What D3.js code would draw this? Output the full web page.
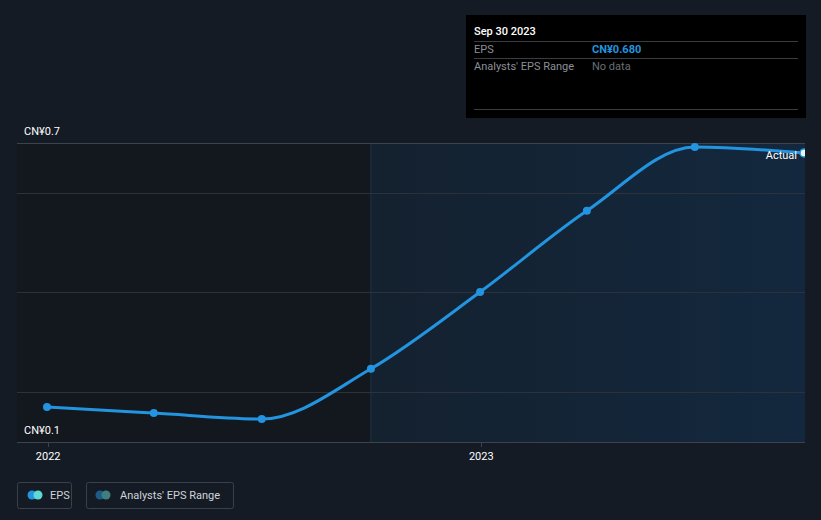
<!DOCTYPE html>
<html><head><meta charset="utf-8">
<script src="https://cdn.jsdelivr.net/npm/d3@7"></script>
<style>
html,body{margin:0;padding:0;background:#151b25;}
svg{display:block;font-family:Roboto, "Open Sans", sans-serif;}
</style></head>
<body>
<svg id="c" width="821" height="520"></svg>
<script>
const dates = ["2021-12-31","2022-03-31","2022-06-30","2022-09-30","2022-12-31","2023-03-31","2023-06-30","2023-09-30"];
const eps = [0.170, 0.158, 0.146, 0.247, 0.401, 0.564, 0.692, 0.680];
const yTicks = [0.1, 0.7];
const gridVals = [0.2, 0.4, 0.6];
const xTickLabels = ["2022", "2023"];
const forecastStart = "2022-09-30";

const parse = d3.timeParse("%Y-%m-%d");
const data = dates.map((d,i)=>({date:parse(d), v:eps[i]}));

const svg = d3.select("#c");
const L = 17, R = 805, T = 143, B = 442;
const x = d3.scaleTime().domain([parse("2021-12-31"), parse("2023-09-30")]).range([47, 804]);
const y = d3.scaleLinear().domain([0.1, 0.7]).range([B, T]);

const defs = svg.append("defs");
const grad = defs.append("linearGradient").attr("id","fg").attr("x1","0").attr("x2","1").attr("y1","0").attr("y2","0");
grad.append("stop").attr("offset","0").attr("stop-color","#14212f");
grad.append("stop").attr("offset","1").attr("stop-color","#13283e");
defs.append("clipPath").attr("id","clip").append("rect").attr("x",L).attr("y",0).attr("width",R-L).attr("height",B);

// past background
svg.append("rect").attr("x",L).attr("y",T).attr("width",x(parse(forecastStart))-L).attr("height",B-T).attr("fill","#13171e");
// forecast region
svg.append("rect").attr("x",x(parse(forecastStart))).attr("y",T).attr("width",R-x(parse(forecastStart))).attr("height",B-T).attr("fill","url(#fg)");
svg.append("line").attr("x1",x(parse(forecastStart))).attr("x2",x(parse(forecastStart))).attr("y1",T).attr("y2",B).attr("stroke","#1e3448").attr("stroke-width",1);

// grid
svg.selectAll(".g").data(gridVals).enter().append("line")
  .attr("x1",L).attr("x2",R).attr("y1",d=>Math.round(y(d))+0.5).attr("y2",d=>Math.round(y(d))+0.5)
  .attr("stroke","#2b323c").attr("stroke-width",1);
svg.append("line").attr("x1",L).attr("x2",R).attr("y1",T+0.5).attr("y2",T+0.5).attr("stroke","#3d434c");
svg.append("line").attr("x1",L).attr("x2",R).attr("y1",B+0.5).attr("y2",B+0.5).attr("stroke","#3d434c");

// y labels
svg.selectAll(".yl").data(yTicks).enter().append("text")
  .attr("x",24).attr("y",d=>y(d)-8).attr("fill","#ffffff").attr("font-size",11).text(d=>"CN¥"+d);

// x axis ticks
const xt = xTickLabels.map(s=>parse(s+"-01-01"));
svg.selectAll(".xt").data(xt).enter().append("line")
  .attr("x1",d=>Math.round(x(d))+0.5).attr("x2",d=>Math.round(x(d))+0.5).attr("y1",B).attr("y2",B+5).attr("stroke","#3d434c");
svg.selectAll(".xl").data(xt).enter().append("text")
  .attr("x",d=>x(d)).attr("y",B+18).attr("text-anchor","middle").attr("fill","#ffffff").attr("font-size",11)
  .text((d,i)=>xTickLabels[i]);

// line
const g = svg.append("g").attr("clip-path","url(#clip)");
g.append("path").datum(data).attr("fill","none").attr("stroke","#2394df").attr("stroke-width",3)
  .attr("d", d3.line().x(d=>x(d.date)).y(d=>y(d.v)).curve(d3.curveMonotoneX));
g.selectAll(".pt").data(data.slice(0,-1)).enter().append("circle")
  .attr("cx",d=>x(d.date)).attr("cy",d=>y(d.v)).attr("r",4).attr("fill","#2394df");
const last = data[data.length-1];
g.append("circle").attr("cx",x(last.date)).attr("cy",y(last.v)).attr("r",4).attr("fill","#e8f4ff").attr("stroke","#2394df").attr("stroke-width",1.5);
svg.append("text").attr("x",797).attr("y",y(last.v)+6).attr("text-anchor","end").attr("fill","#ffffff").attr("font-size",11).text("Actual");

// tooltip
const tt = svg.append("g");
tt.append("rect").attr("x",466).attr("y",15).attr("width",340).attr("height",103).attr("fill","#000000");
tt.append("text").attr("x",474).attr("y",35).attr("fill","#ffffff").attr("font-size",11).attr("font-weight",500).text("Sep 30 2023");
[41,58,109].forEach(yy=>tt.append("line").attr("x1",474).attr("x2",798).attr("y1",yy+0.5).attr("y2",yy+0.5).attr("stroke","#3a3d42"));
tt.append("text").attr("x",474).attr("y",53).attr("fill","#8b8f96").attr("font-size",11).text("EPS");
tt.append("text").attr("x",592).attr("y",53).attr("fill","#2394df").attr("font-size",11).attr("font-weight",700).text("CN¥0.680");
tt.append("text").attr("x",474).attr("y",70).attr("fill","#8b8f96").attr("font-size",11).text("Analysts' EPS Range");
tt.append("text").attr("x",592).attr("y",70).attr("fill","#6b6f75").attr("font-size",11).text("No data");

// legend
const lg = svg.append("g");
lg.append("rect").attr("x",17.5).attr("y",482.5).attr("width",54).attr("height",26).attr("rx",2).attr("fill","none").attr("stroke","#3a414b");
lg.append("circle").attr("cx",32).attr("cy",495).attr("r",4.5).attr("fill","#2394df");
lg.append("circle").attr("cx",38).attr("cy",495).attr("r",4.5).attr("fill","#5fd9d4");
lg.append("text").attr("x",50).attr("y",499).attr("fill","#d0d3d8").attr("font-size",11).text("EPS");
lg.append("rect").attr("x",86.5).attr("y",482.5).attr("width",147).attr("height",26).attr("rx",2).attr("fill","none").attr("stroke","#3a414b");
lg.append("circle").attr("cx",100).attr("cy",495).attr("r",4.5).attr("fill","#1d5b86");
lg.append("circle").attr("cx",106).attr("cy",495).attr("r",4.5).attr("fill","#3f7f7e");
lg.append("text").attr("x",120).attr("y",499).attr("fill","#d0d3d8").attr("font-size",11).text("Analysts' EPS Range");
</script>
</body></html>
